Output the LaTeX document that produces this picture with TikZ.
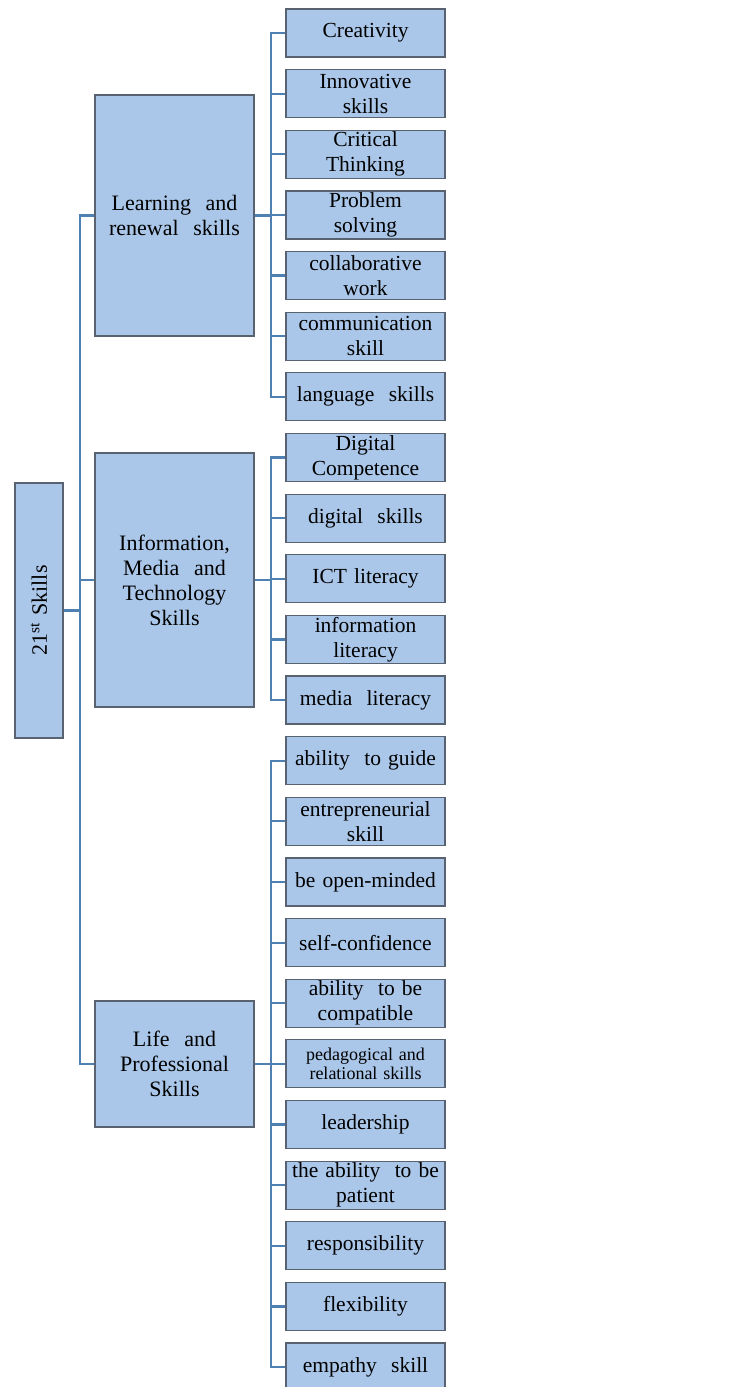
\documentclass[tikz,border=0pt]{standalone}
\usepackage{fontspec}
\setmainfont{Liberation Serif}
\usetikzlibrary{positioning}

\definecolor{boxfill}{RGB}{170,199,233}
\definecolor{boxline}{RGB}{88,98,112}
\definecolor{linkblue}{RGB}{78,128,178}

\tikzset{
  group/.style={draw=boxline, line width=1.2pt, fill=boxfill, minimum width=159pt,
    text width=150pt, align=center, inner sep=0pt, font=\fontsize{22}{25}\selectfont},
  leaf/.style={draw=boxline, line width=1.2pt, fill=boxfill, minimum width=159pt,
    minimum height=48pt, text width=157pt, align=center, inner sep=0pt,
    font=\fontsize{21.5}{25}\selectfont},
  link/.style={draw=linkblue, line width=2.2pt}
}

\begin{document}
\begin{tikzpicture}
	[x=1pt, y=-1pt, on grid, node distance=60.64pt]
   \useasboundingbox (0,0) rectangle (736,1387);
   % main groups
   \node[group, minimum width=255pt, minimum height=48pt, text width=240pt, rotate=90] (root) at (39,610.5) {21\textsuperscript{st} Skills};
   \node[group, minimum height=241pt] (learn) at (174.5,215.5) {Learning \ and\\renewal \ skills};
   \node[group, minimum height=254pt] (info) at (174.5,580) {Information,\\Media \ and\\Technology\\Skills};
   \node[group, minimum height=126pt] (life) at (174.5,1064) {Life \ and\\Professional\\Skills};
   % learning and renewal
   \node[leaf] (crea) at (365.5,33) {Creativity};
   \node[leaf] (inno) [below=of crea] {Innovative\\skills};
   \node[leaf] (crit) [below=of inno] {Critical\\Thinking};
   \node[leaf] (prob) [below=of crit] {Problem\\solving};
   \node[leaf] (coll) [below=of prob] {collaborative\\work};
   \node[leaf] (comm) [below=of coll] {communication\\skill};
   \node[leaf] (lang) [below=of comm] {language \ skills};
   % information, media and technology
   \node[leaf] (dcomp) [below=of lang] {Digital\\Competence};
   \node[leaf] (dskill) [below=of dcomp] {digital \ skills};
   \node[leaf] (ict) [below=of dskill] {ICT literacy};
   \node[leaf] (infolit) [below=of ict] {information\\literacy};
   \node[leaf] (media) [below=of infolit] {media \ literacy};
   % life and professional
   \node[leaf] (guide) [below=of media] {ability \ to guide};
   \node[leaf] (entre) [below=of guide] {entrepreneurial\\skill};
   \node[leaf] (open) [below=of entre] {be open-minded};
   \node[leaf] (conf) [below=of open] {self-confidence};
   \node[leaf] (compat) [below=of conf] {ability \ to be\\compatible};
   \node[leaf, font=\fontsize{18}{19}\selectfont] (peda) [below=of compat] {pedagogical and\\relational skills};
   \node[leaf] (lead) [below=of peda] {leadership};
   \node[leaf] (pati) [below=of lead] {the ability \ to be\\patient};
   \node[leaf] (resp) [below=of pati] {responsibility};
   \node[leaf] (flex) [below=of resp] {flexibility};
   \node[leaf] (empa) [below=of flex] {empathy \ skill};
   % connectors
   \draw[link] (root.south) -- ++(16,0) |- (learn.west);
   \draw[link] (root.south) -- ++(16,0) |- (info.west);
   \draw[link] (root.south) -- ++(16,0) |- (life.west);
   \foreach \c in {crea,inno,crit,prob,coll,comm,lang}
      \draw[link] (learn.east) -- ++(16,0) |- (\c.west);
   \foreach \c in {dcomp,dskill,ict,infolit,media}
      \draw[link] (info.east) -- ++(16,0) |- (\c.west);
   \foreach \c in {guide,entre,open,conf,compat,peda,lead,pati,resp,flex,empa}
      \draw[link] (life.east) -- ++(16,0) |- (\c.west);
\end{tikzpicture}
\end{document}
